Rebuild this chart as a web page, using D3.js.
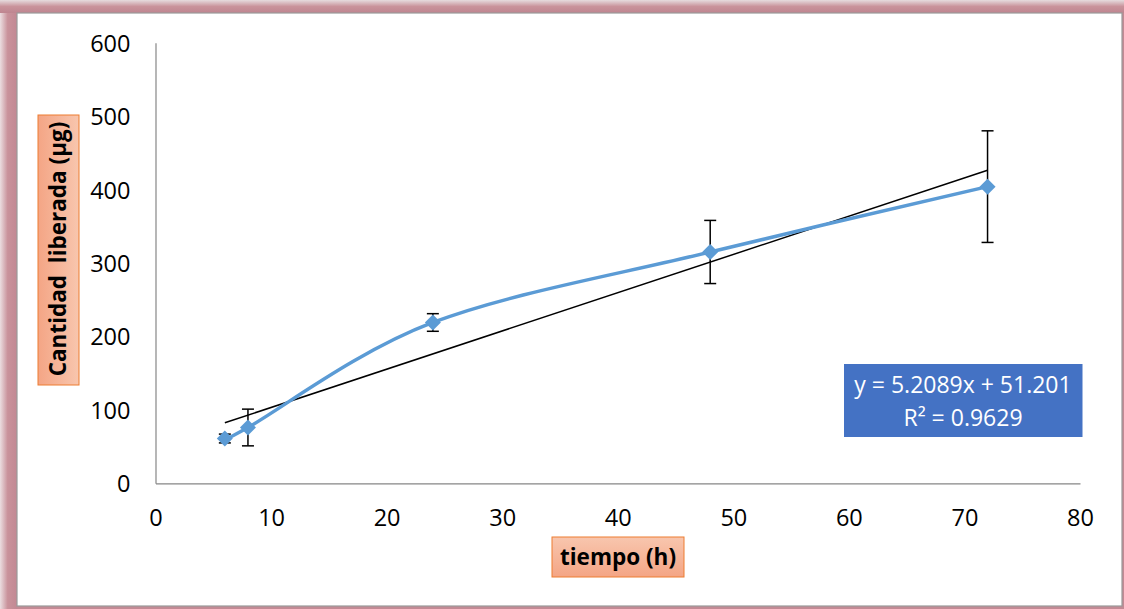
<!DOCTYPE html>
<html>
<head>
<meta charset="utf-8">
<script src="https://cdn.jsdelivr.net/npm/d3@7"></script>
<style>
  html, body { margin: 0; padding: 0; background: #fff; }
  svg { display: block; }
  text { font-family: "Open Sans", Lato, sans-serif; }
</style>
</head>
<body>
<svg id="chart" width="1124" height="609"></svg>
<script>
// Release data: time (h), mean released amount (µg) and its error
const tiempo = [6, 8, 24, 48, 72];
const cantidad = [61, 76, 219, 315, 404];
const errorBar = [6, 25, 12, 43, 76];

// Linear fit reported on the chart
const slope = 5.2089;
const intercept = 51.201;
const r2 = 0.9629;

const xTicks = [0, 10, 20, 30, 40, 50, 60, 70, 80];
const yTicks = [0, 100, 200, 300, 400, 500, 600];

const svg = d3.select("#chart");
const W = 1124, H = 609;

// Frame with a soft mauve border
const defs = svg.append("defs");
const gl = defs.append("linearGradient").attr("id", "edgeL").attr("x1", 0).attr("x2", 1).attr("y1", 0).attr("y2", 0);
gl.append("stop").attr("offset", 0).attr("stop-color", "#ebdde0");
gl.append("stop").attr("offset", 0.45).attr("stop-color", "#c9929b");
gl.append("stop").attr("offset", 1).attr("stop-color", "#c28893");
const gt = defs.append("linearGradient").attr("id", "edgeT").attr("x1", 0).attr("x2", 0).attr("y1", 0).attr("y2", 1);
gt.append("stop").attr("offset", 0).attr("stop-color", "#e6dcde");
gt.append("stop").attr("offset", 0.5).attr("stop-color", "#c9939b");
gt.append("stop").attr("offset", 1).attr("stop-color", "#bf8590");

svg.append("rect").attr("x", 0).attr("y", 0).attr("width", W).attr("height", H).attr("fill", "#c28a94");
svg.append("rect").attr("x", 0).attr("y", 0).attr("width", 17).attr("height", H).attr("fill", "url(#edgeL)");
svg.append("rect").attr("x", 0).attr("y", 0).attr("width", W).attr("height", 13).attr("fill", "url(#edgeT)");
svg.append("rect").attr("x", 17).attr("y", 13).attr("width", 1105).attr("height", 593)
  .attr("fill", "#ffffff").attr("stroke", "#9a9a9a").attr("stroke-width", 1.2);

// Label box gradients
const lab = defs.append("linearGradient").attr("id", "labelFill").attr("x1", 0).attr("x2", 0).attr("y1", 0).attr("y2", 1);
lab.append("stop").attr("offset", 0).attr("stop-color", "#f8c6ae");
lab.append("stop").attr("offset", 1).attr("stop-color", "#f4a585");
const labV = defs.append("linearGradient").attr("id", "labelFillV").attr("x1", 1).attr("x2", 0).attr("y1", 0).attr("y2", 0);
labV.append("stop").attr("offset", 0).attr("stop-color", "#f8c6ae");
labV.append("stop").attr("offset", 1).attr("stop-color", "#f4a585");

// Scales
const x = d3.scaleLinear().domain([0, 80]).range([155.5, 1080]);
const y = d3.scaleLinear().domain([0, 600]).range([483.3, 42.7]);

// Axes (lines only, no tick marks)
const xAxis = svg.append("g").attr("transform", `translate(0,${y(0)})`)
  .call(d3.axisBottom(x).tickValues(xTicks).tickSize(0).tickPadding(26).tickFormat(d3.format("d")));
const yAxis = svg.append("g").attr("transform", `translate(${x(0)},0)`)
  .call(d3.axisLeft(y).tickValues(yTicks).tickSize(0).tickPadding(25).tickFormat(d3.format("d")));
[xAxis, yAxis].forEach(g => {
  g.select(".domain").attr("stroke", "#868686").attr("stroke-width", 1.2);
  g.selectAll("text").attr("font-size", 23.5).attr("fill", "#000").attr("font-family", "'Open Sans', sans-serif");
});
xAxis.selectAll("text").attr("dy", "0.71em");
yAxis.selectAll("text").attr("dy", "0.36em");

// Trend line over the data range
const xMin = d3.min(tiempo), xMax = d3.max(tiempo);
svg.append("line")
  .attr("x1", x(xMin)).attr("y1", y(slope * xMin + intercept))
  .attr("x2", x(xMax)).attr("y2", y(slope * xMax + intercept))
  .attr("stroke", "#000").attr("stroke-width", 1.5);

// Error bars
const pts = tiempo.map((t, i) => ({ t, v: cantidad[i], e: errorBar[i] }));
const eb = svg.append("g").attr("stroke", "#000").attr("stroke-width", 1.5);
pts.forEach(p => {
  eb.append("line").attr("x1", x(p.t)).attr("x2", x(p.t)).attr("y1", y(p.v + p.e)).attr("y2", y(p.v - p.e));
  [p.v + p.e, p.v - p.e].forEach(v => {
    eb.append("line").attr("x1", x(p.t) - 6).attr("x2", x(p.t) + 6).attr("y1", y(v)).attr("y2", y(v));
  });
});

// Smoothed series line
const line = d3.line().x(d => x(d.t)).y(d => y(d.v)).curve(d3.curveCatmullRom.alpha(0));
svg.append("path").datum(pts).attr("d", line)
  .attr("fill", "none").attr("stroke", "#5b9bd5").attr("stroke-width", 3.5).attr("stroke-linejoin", "round");

// Diamond markers
svg.append("g").selectAll("path").data(pts).join("path")
  .attr("transform", d => `translate(${x(d.t)},${y(d.v)})`)
  .attr("d", "M0,-8 L8,0 L0,8 L-8,0 Z")
  .attr("fill", "#5b9bd5");

// Equation box
const eqG = svg.append("g");
eqG.append("rect").attr("x", 844).attr("y", 364).attr("width", 238.5).attr("height", 73).attr("fill", "#4472c4");
eqG.append("text").attr("x", 963).attr("y", 393).attr("text-anchor", "middle")
  .attr("font-size", 23).attr("fill", "#fff")
  .text(`y = ${slope}x + ${intercept}`);
eqG.append("text").attr("x", 963).attr("y", 426).attr("text-anchor", "middle")
  .attr("font-size", 23).attr("fill", "#fff")
  .text(`R² = ${r2}`);

// Axis titles in orange boxes
svg.append("rect").attr("x", 552).attr("y", 537).attr("width", 132).attr("height", 40)
  .attr("fill", "url(#labelFill)").attr("stroke", "#ed7d31").attr("stroke-width", 1);
svg.append("text").attr("x", 618).attr("y", 565).attr("text-anchor", "middle")
  .attr("font-size", 22.5).attr("font-weight", "bold").attr("fill", "#000")
  .text("tiempo (h)");

svg.append("rect").attr("x", 38).attr("y", 115).attr("width", 41).attr("height", 270)
  .attr("fill", "url(#labelFillV)").attr("stroke", "#ed7d31").attr("stroke-width", 1);
svg.append("text").attr("transform", "translate(66,249) rotate(-90)").attr("text-anchor", "middle")
  .attr("font-size", 22.5).attr("font-weight", "bold").attr("fill", "#000")
  .attr("xml:space", "preserve").style("white-space", "pre")
  .text("Cantidad  liberada (µg)");
</script>
</body>
</html>
